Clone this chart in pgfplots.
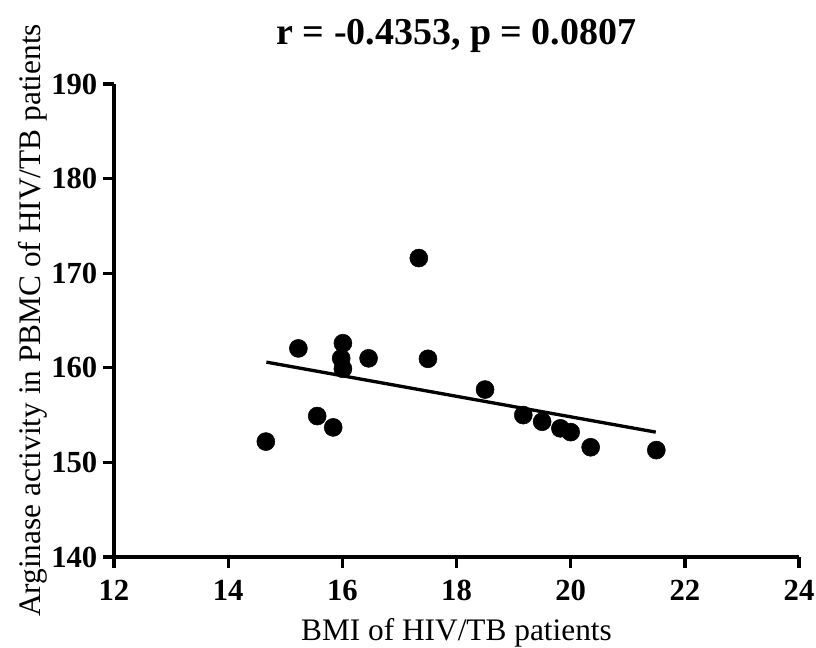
\documentclass[border=0pt]{standalone}
\usepackage{pgfplots}
\pgfplotsset{compat=1.18}
\usepackage{fontspec}
\setmainfont{Liberation Serif}
\begin{document}
\begin{tikzpicture}[x=0.75pt,y=0.75pt]
\begin{axis}[
  at={(0,0)}, anchor=south west,
  scale only axis,
  width=513.75pt, height=354.75pt,
  xmin=12, xmax=24, ymin=140, ymax=190,
  xtick={12,14,...,24}, ytick={140,150,...,190},
  axis x line*=bottom, axis y line*=left,
  axis line style={line width=2.5pt, -},
  xtick align=outside, ytick align=outside,
  major tick length=8pt,
  every tick/.style={line width=2.5pt, black},
  /pgf/number format/assume math mode=true,
  tick label style={font=\fontsize{23}{25}\selectfont\bfseries},
  xticklabel style={yshift=-6pt},
  yticklabel style={xshift=-1pt},
  title={\fontsize{28.5}{30}\selectfont\bfseries r = -0.4353, p = 0.0807},
  title style={yshift=14pt},
  xlabel={BMI of HIV/TB patients},
  ylabel={Arginase activity in PBMC of HIV/TB patients},
  label style={font=\fontsize{23.5}{26}\selectfont},
  xlabel style={yshift=-6pt},
  ylabel style={yshift=-4pt},
  clip=false,
]
\addplot[only marks, mark=*, mark size=6.75pt, black] coordinates {
(14.66,152.2) (15.23,162.05) (15.56,154.9) (15.84,153.7)
(16.01,162.6) (15.98,161.0) (16.01,159.9) (16.46,161.0)
(17.34,171.6) (17.50,160.95) (18.50,157.7) (19.17,155.0)
(19.50,154.3) (19.82,153.6) (20.00,153.2) (20.35,151.6)
(21.50,151.3)
};
\addplot[black, line width=2.5pt] coordinates {(14.67,160.6) (21.49,153.2)};
\end{axis}
\pgfresetboundingbox
\path[use as bounding box] (-114,-91) rectangle (702,557);
\end{tikzpicture}
\end{document}
